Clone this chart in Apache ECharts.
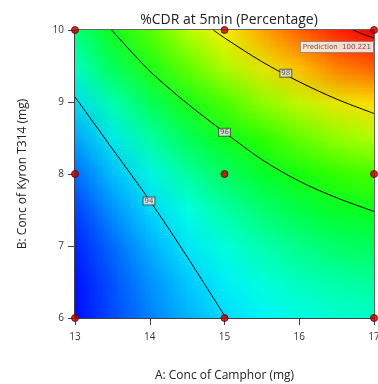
<!DOCTYPE html>
<html><head><meta charset="utf-8">
<script src="https://cdn.jsdelivr.net/npm/echarts@6/dist/echarts.min.js"></script>
<style>html,body{margin:0;padding:0;background:#fff}#c{width:378px;height:384px}#t{position:absolute;left:-300px;top:0;width:9px;height:9px}</style>
</head><body><div id="c"></div><div id="t"></div>
<script>
// Axis node values (A: Conc of Camphor, B: Conc of Kyron T314)
const xNodes = [13, 13.5, 14, 14.5, 15, 15.5, 16, 16.5, 17];
const yNodes = [6, 6.5, 7, 7.5, 8, 8.5, 9, 9.5, 10];
// %CDR at each node; rows from y=6 (bottom) to y=10 (top), left to right in x
const surface = [
  [92.42, 92.90, 93.33, 93.69, 94.00, 94.25, 94.44, 94.57, 94.65],
  [92.41, 92.94, 93.41, 93.82, 94.18, 94.47, 94.71, 94.88, 95.00],
  [92.51, 93.08, 93.60, 94.05, 94.45, 94.79, 95.07, 95.29, 95.46],
  [92.70, 93.32, 93.88, 94.38, 94.83, 95.21, 95.54, 95.80, 96.01],
  [93.00, 93.66, 94.27, 94.81, 95.30, 95.73, 96.10, 96.41, 96.67],
  [93.39, 94.10, 94.75, 95.34, 95.87, 96.35, 96.76, 97.12, 97.42],
  [93.88, 94.64, 95.33, 95.97, 96.55, 97.07, 97.53, 97.93, 98.27],
  [94.48, 95.28, 96.02, 96.70, 97.32, 97.89, 98.39, 98.84, 99.23],
  [95.17, 96.02, 96.80, 97.53, 98.20, 98.81, 99.36, 99.85, 100.22]
];
// Contour lines
const contour94 = [[13, 9.07], [13.5, 8.35], [14, 7.63], [14.5, 6.85], [15.02, 6]];
const contour96 = [[13.49, 10], [14, 9.43], [14.5, 8.98], [15, 8.58], [15.5, 8.2], [16, 7.9], [16.5, 7.67], [17, 7.48]];
const contour98 = [[14.85, 10], [15, 9.89], [15.5, 9.56], [16, 9.28], [16.5, 9.04], [17, 8.84]];
const contour100 = [[16.72, 10], [16.86, 9.94], [17, 9.89]];
const contourLabels = [[13.99, 7.625, '94'], [15.0, 8.58, '96'], [15.82, 9.40, '98']];
// Design points
const designPoints = [[13, 6], [15, 6], [17, 6], [13, 8], [15, 8], [17, 8], [13, 10], [15, 10], [17, 10]];
const prediction = [[17, 10, 100.221]];
const xTicks = [13, 14, 15, 16, 17];
const yTicks = [6, 7, 8, 9, 10];

const FONT = '"Open Sans", "Noto Sans", sans-serif';
const colorStops = ['#0000ff', '#00ffff', '#00ff00', '#ffff00', '#ff0000'];
const flat = surface.flat();
const vMin = Math.min.apply(null, flat);
const vMax = Math.max.apply(null, flat);

// small raster of the response surface (one cell per node), drawn by an ECharts heatmap
const heatData = [];
surface.forEach((row, j) => row.forEach((v, i) => heatData.push([i, j, v])));
const tiny = echarts.init(document.getElementById('t'), null, {renderer: 'canvas', devicePixelRatio: 1, width: xNodes.length, height: yNodes.length});
tiny.setOption({
  animation: false,
  grid: {left: 0, right: 0, top: 0, bottom: 0, outerBoundsMode: 'none'},
  xAxis: {type: 'category', data: xNodes, show: false},
  yAxis: {type: 'category', data: yNodes, show: false},
  visualMap: {show: false, min: vMin, max: vMax, dimension: 2, inRange: {color: colorStops}},
  series: [{type: 'heatmap', data: heatData, itemStyle: {borderWidth: 0}}]
});
const srcCanvas = tiny.getDom().querySelector('canvas');

const chart = echarts.init(document.getElementById('c'), null, {renderer: 'canvas', devicePixelRatio: 1});
const lineStyle = {color: '#000', width: 1};
function contourSeries(data) {
  return {type: 'line', data: data, smooth: 0.3, symbol: 'none', silent: true, lineStyle: lineStyle, z: 3};
}
chart.setOption({
  animation: false,
  backgroundColor: '#fff',
  textStyle: {fontFamily: FONT},
  title: {
    text: '%CDR at 5min (Percentage)', left: 224, top: 8, textAlign: 'center',
    textStyle: {fontSize: 14, fontWeight: 'normal', color: '#222', fontFamily: FONT}
  },
  grid: {left: 75, right: 4, top: 30, bottom: 66, outerBoundsMode: 'none', containLabel: false,
    show: true, borderColor: '#333', borderWidth: 1.5, backgroundColor: 'transparent'},
  xAxis: {
    type: 'value', min: xTicks[0], max: xTicks[xTicks.length - 1], interval: 1,
    name: 'A: Conc of Camphor (mg)', nameLocation: 'middle', nameGap: 52,
    nameTextStyle: {fontSize: 12, color: '#222', fontFamily: FONT},
    axisLine: {show: true, onZero: false, lineStyle: {color: '#333', width: 1.5}},
    axisTick: {show: true, length: 7, lineStyle: {color: '#444'}},
    axisLabel: {fontSize: 10, color: '#333', margin: 14, fontFamily: FONT},
    splitLine: {show: false}
  },
  yAxis: {
    type: 'value', min: yTicks[0], max: yTicks[yTicks.length - 1], interval: 1,
    name: 'B: Conc of Kyron T314 (mg)', nameLocation: 'middle', nameGap: 46,
    nameTextStyle: {fontSize: 12, color: '#222', fontFamily: FONT},
    axisLine: {show: true, onZero: false, lineStyle: {color: '#333', width: 1.5}},
    axisTick: {show: true, length: 7, lineStyle: {color: '#444'}},
    axisLabel: {fontSize: 10, color: '#333', margin: 11, fontFamily: FONT},
    splitLine: {show: false}
  },
  series: [
    {
      type: 'custom', silent: true, z: 1,
      data: [[xNodes[0], yNodes[yNodes.length - 1], xNodes[xNodes.length - 1], yNodes[0]]],
      encode: {x: [0, 2], y: [1, 3]},
      renderItem: function (params, api) {
        const p0 = api.coord([api.value(0), api.value(1)]);
        const p1 = api.coord([api.value(2), api.value(3)]);
        return {
          type: 'image',
          style: {
            image: srcCanvas, x: p0[0], y: p0[1], width: p1[0] - p0[0], height: p1[1] - p0[1],
            sx: 0.5, sy: 0.5, sWidth: xNodes.length - 1, sHeight: yNodes.length - 1
          }
        };
      }
    },
    contourSeries(contour94),
    contourSeries(contour96),
    contourSeries(contour98),
    contourSeries(contour100),
    {
      type: 'scatter', data: contourLabels, symbol: 'rect', symbolSize: 1, silent: true, z: 5,
      itemStyle: {color: 'rgba(0,0,0,0)'},
      label: {
        show: true, position: 'inside', formatter: p => p.data[2],
        fontSize: 7, lineHeight: 7, color: '#333', fontFamily: 'DejaVu Sans',
        backgroundColor: '#f2f2f2', borderColor: '#444', borderWidth: 1, padding: [0, 1]
      }
    },
    {
      type: 'scatter', data: designPoints, symbol: 'circle', symbolSize: 7, clip: false, silent: true, z: 6,
      itemStyle: {color: '#c00000', borderColor: '#5a0000', borderWidth: 1}
    },
    {
      type: 'scatter', data: prediction, symbolSize: 0, clip: false, silent: true, z: 7,
      label: {
        show: true, position: [-1, 12], align: 'right', verticalAlign: 'top',
        formatter: p => 'Prediction  ' + p.data[2].toFixed(3),
        fontSize: 7, lineHeight: 8, color: '#333', fontFamily: 'DejaVu Sans',
        backgroundColor: '#fff', borderColor: '#888', borderWidth: 1, padding: [1, 2]
      }
    }
  ]
});
</script></body></html>
